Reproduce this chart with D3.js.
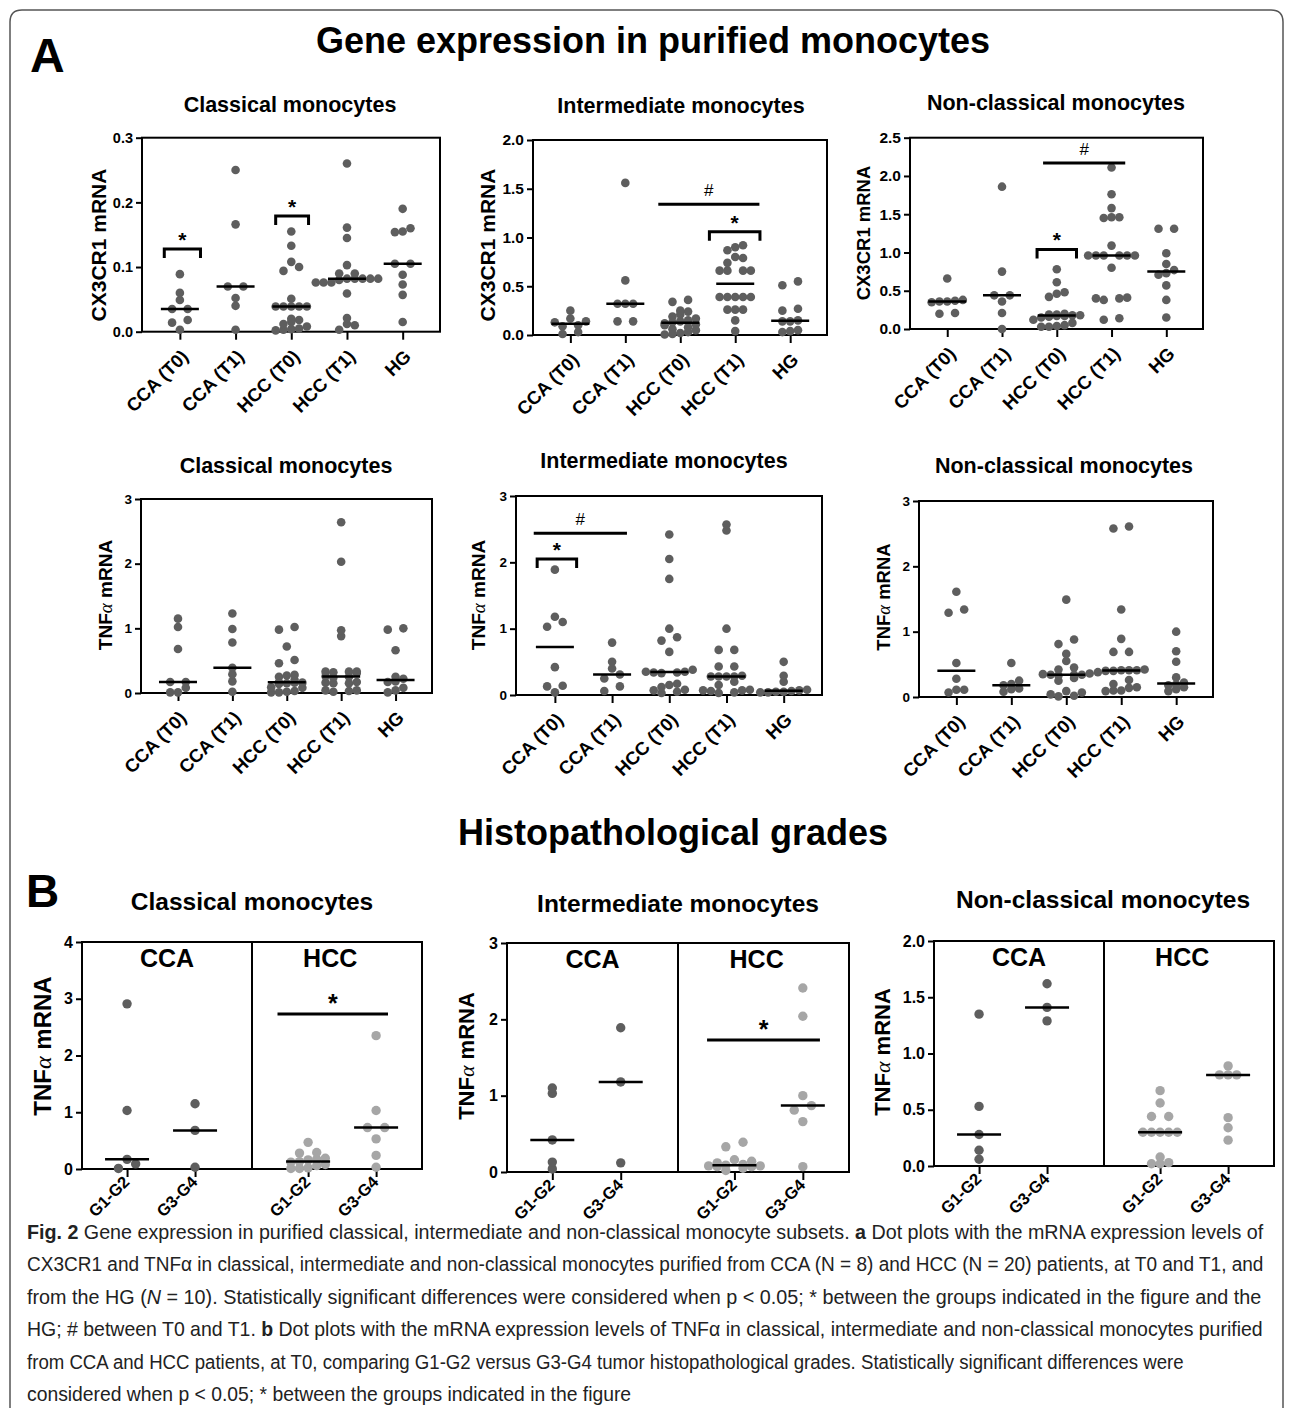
<!DOCTYPE html>
<html>
<head>
<meta charset="utf-8">
<script src="https://cdn.jsdelivr.net/npm/d3@7"></script>
<style>
body { margin: 0; background: #fff; }
svg text { font-family: "Liberation Sans", Arial, sans-serif; }
.cap { white-space: pre; }
</style>
</head>
<body>
<svg id="fig" width="1293" height="1408"></svg>
<script>
const groupsA = ["CCA (T0)", "CCA (T1)", "HCC (T0)", "HCC (T1)", "HG"];
const groupsB = ["G1-G2", "G3-G4", "G1-G2", "G3-G4"];
const subsets = ["Classical monocytes", "Intermediate monocytes", "Non-classical monocytes"];

// CX3CR1 mRNA, one array per group (CCA T0, CCA T1, HCC T0, HCC T1, HG)
const cx3cr1Classical = [
  [0.089, 0.060, 0.049, 0.035, 0.035, 0.018, 0.014, 0.003],
  [0.250, 0.166, 0.070, 0.070, 0.052, 0.040, 0.003],
  [0.155, 0.133, 0.108, 0.100, 0.094, 0.051, 0.039, 0.039, 0.039, 0.039, 0.039, 0.020, 0.018, 0.015, 0.012, 0.008, 0.005, 0.004, 0.003, 0.002],
  [0.260, 0.161, 0.145, 0.103, 0.090, 0.090, 0.082, 0.082, 0.082, 0.082, 0.082, 0.080, 0.076, 0.076, 0.076, 0.059, 0.021, 0.012, 0.010, 0.003],
  [0.190, 0.160, 0.155, 0.154, 0.105, 0.105, 0.088, 0.073, 0.057, 0.015]
];
const cx3cr1Intermediate = [
  [0.25, 0.17, 0.14, 0.13, 0.10, 0.09, 0.03, 0.01],
  [1.56, 0.56, 0.32, 0.32, 0.32, 0.14, 0.14],
  [0.36, 0.34, 0.25, 0.24, 0.21, 0.19, 0.17, 0.15, 0.14, 0.13, 0.12, 0.11, 0.10, 0.08, 0.06, 0.05, 0.03, 0.02, 0.01, 0.005],
  [0.92, 0.90, 0.87, 0.80, 0.79, 0.74, 0.66, 0.66, 0.66, 0.66, 0.39, 0.39, 0.39, 0.39, 0.39, 0.26, 0.26, 0.26, 0.15, 0.04],
  [0.55, 0.51, 0.27, 0.25, 0.15, 0.14, 0.14, 0.05, 0.04, 0.03]
];
const cx3cr1NonClassical = [
  [0.66, 0.38, 0.37, 0.36, 0.36, 0.35, 0.21, 0.20],
  [1.86, 0.75, 0.44, 0.44, 0.36, 0.21, 0.00],
  [0.78, 0.61, 0.48, 0.46, 0.42, 0.20, 0.19, 0.19, 0.18, 0.18, 0.17, 0.17, 0.16, 0.15, 0.12, 0.08, 0.05, 0.04, 0.03, 0.03],
  [2.11, 1.76, 1.58, 1.46, 1.46, 1.45, 1.09, 0.96, 0.96, 0.96, 0.96, 0.96, 0.96, 0.80, 0.41, 0.40, 0.40, 0.38, 0.14, 0.12],
  [1.31, 1.31, 0.99, 0.85, 0.77, 0.73, 0.71, 0.57, 0.38, 0.15]
];

// TNFa mRNA
const tnfClassical = [
  [1.15, 1.02, 0.68, 0.17, 0.17, 0.08, 0.01, 0.01],
  [1.23, 0.99, 0.78, 0.39, 0.29, 0.18, 0.02],
  [1.02, 0.98, 0.72, 0.51, 0.46, 0.28, 0.27, 0.25, 0.20, 0.17, 0.16, 0.16, 0.15, 0.14, 0.09, 0.08, 0.03, 0.02, 0.01, 0.01],
  [2.64, 2.03, 0.97, 0.88, 0.33, 0.33, 0.33, 0.32, 0.31, 0.26, 0.25, 0.24, 0.17, 0.16, 0.15, 0.15, 0.04, 0.04, 0.03, 0.02],
  [1.00, 0.98, 0.66, 0.25, 0.22, 0.18, 0.17, 0.08, 0.04, 0.01]
];
const tnfIntermediate = [
  [1.89, 1.18, 1.10, 1.03, 0.42, 0.14, 0.13, 0.04],
  [0.79, 0.50, 0.40, 0.31, 0.25, 0.13, 0.06],
  [2.42, 2.05, 1.75, 1.00, 0.87, 0.82, 0.65, 0.38, 0.35, 0.35, 0.34, 0.34, 0.33, 0.17, 0.15, 0.12, 0.08, 0.07, 0.05, 0.03],
  [2.57, 2.48, 1.00, 0.68, 0.68, 0.43, 0.43, 0.29, 0.28, 0.28, 0.28, 0.28, 0.20, 0.15, 0.08, 0.07, 0.07, 0.06, 0.04, 0.03],
  [0.50, 0.29, 0.20, 0.08, 0.07, 0.06, 0.05, 0.05, 0.04, 0.04]
];
const tnfNonClassical = [
  [1.61, 1.34, 1.29, 0.52, 0.28, 0.11, 0.11, 0.07],
  [0.52, 0.25, 0.20, 0.18, 0.13, 0.12, 0.08],
  [1.49, 0.88, 0.81, 0.66, 0.55, 0.45, 0.42, 0.36, 0.35, 0.34, 0.34, 0.34, 0.33, 0.29, 0.25, 0.09, 0.07, 0.04, 0.02, 0.01],
  [2.61, 2.58, 1.34, 0.89, 0.69, 0.69, 0.42, 0.41, 0.41, 0.41, 0.40, 0.40, 0.38, 0.26, 0.20, 0.15, 0.14, 0.10, 0.10, 0.09],
  [1.00, 0.70, 0.54, 0.30, 0.22, 0.19, 0.18, 0.15, 0.12, 0.09]
];

// TNFa mRNA by grade (CCA G1-G2, CCA G3-G4, HCC G1-G2, HCC G3-G4)
const gradeClassical = [
  [2.91, 1.03, 0.17, 0.09, 0.01],
  [1.15, 0.68, 0.03],
  [0.47, 0.29, 0.28, 0.19, 0.17, 0.16, 0.13, 0.12, 0.08, 0.06, 0.02, 0.01, 0.01],
  [2.35, 1.03, 0.73, 0.73, 0.53, 0.24, 0.03]
];
const gradeIntermediate = [
  [1.10, 1.03, 0.42, 0.13, 0.04],
  [1.89, 1.18, 0.12],
  [0.39, 0.33, 0.16, 0.14, 0.12, 0.10, 0.09, 0.08, 0.08, 0.07, 0.07, 0.05, 0.02],
  [2.41, 2.04, 1.00, 0.87, 0.81, 0.66, 0.07]
];
const gradeNonClassical = [
  [1.35, 0.53, 0.28, 0.14, 0.06],
  [1.62, 1.41, 1.29],
  [0.67, 0.56, 0.44, 0.44, 0.30, 0.30, 0.30, 0.30, 0.30, 0.08, 0.03, 0.02, 0.02],
  [0.89, 0.81, 0.81, 0.81, 0.43, 0.34, 0.23]
];

const cx3cr1Ticks = [[0, 0.1, 0.2, 0.3], [0, 0.5, 1, 1.5, 2], [0, 0.5, 1, 1.5, 2, 2.5]];
const tnfTicks = [[0, 1, 2, 3], [0, 1, 2, 3], [0, 1, 2, 3]];
const gradeTicks = [[0, 1, 2, 3, 4], [0, 1, 2, 3], [0, 0.5, 1, 1.5, 2]];

// significance marks: group-index span and height in data units
const cx3cr1Marks = [
  [{ type: "bracket", from: -0.28, to: 0.37, y: 0.128, label: "*" },
   { type: "bracket", from: 1.72, to: 2.31, y: 0.179, label: "*" }],
  [{ type: "line", from: 1.6, to: 3.44, y: 1.34, label: "#" },
   { type: "bracket", from: 2.53, to: 3.45, y: 1.06, label: "*" }],
  [{ type: "line", from: 1.75, to: 3.25, y: 2.17, label: "#" },
   { type: "bracket", from: 1.64, to: 2.36, y: 1.04, label: "*" }]
];
const tnfMarks = [
  [],
  [{ type: "line", from: -0.37, to: 1.26, y: 2.44, label: "#" },
   { type: "bracket", from: -0.31, to: 0.38, y: 2.05, label: "*" }],
  []
];
const gradeMarks = [
  [{ type: "line", from: 1.15, to: 1.8, y: 2.73, label: "*" }],
  [{ type: "line", from: 1.17, to: 1.83, y: 1.73, label: "*" }],
  []
];

const svg = d3.select("#fig");
const dark = "#5e5e5e", light = "#a6a6a6";

svg.append("path")
  .attr("d", "M10,1408 V22 Q10,10 22,10 H1271 Q1283,10 1283,22 V1408")
  .attr("fill", "none").attr("stroke", "#555").attr("stroke-width", 1.5);

// points with close values share a row and are spread around the column centre
function swarm(values, y, spacing) {
  const pts = values.map(v => ({ v: v, py: y(v) })).sort((a, b) => b.py - a.py);
  const rows = [];
  for (let p of pts) {
    const row = rows[rows.length - 1];
    if (row && Math.abs(p.py - row[0].py) <= 5) row.push(p);
    else rows.push([p]);
  }
  for (let row of rows) {
    const n = row.length;
    row.forEach((p, i) => {
      if (n % 2) p.dx = (i - (n - 1) / 2) * spacing;
      else p.dx = (i % 2 ? 1 : -1) * (Math.floor(i / 2) + 1) * spacing;
    });
  }
  return pts;
}

function drawPanel(cfg) {
  const [left, right, top, bottom] = cfg.box;
  const y = d3.scaleLinear([0, d3.max(cfg.ticks)], [bottom, top]);
  const x = d3.scaleLinear(cfg.xDomain, [left, right]);
  const g = svg.append("g");

  g.append("rect")
    .attr("x", left).attr("y", top)
    .attr("width", right - left).attr("height", bottom - top)
    .attr("fill", "none").attr("stroke", "#000").attr("stroke-width", 2);
  if (cfg.split) {
    g.append("line")
      .attr("x1", x(1)).attr("x2", x(1)).attr("y1", top).attr("y2", bottom)
      .attr("stroke", "#000").attr("stroke-width", 2);
  }

  const yAxis = d3.axisLeft(y).tickValues(cfg.ticks).tickFormat(d3.format(cfg.fmt))
    .tickSize(6).tickSizeOuter(0).tickPadding(3);
  const yg = g.append("g").attr("transform", `translate(${left},0)`).call(yAxis);
  yg.select(".domain").remove();
  yg.selectAll(".tick line").attr("stroke", "#000").attr("stroke-width", 2);
  yg.selectAll("text").attr("fill", "#000").style("font-size", cfg.tickFont + "px").style("font-weight", "bold");

  const xAxis = d3.axisBottom(x).tickValues(cfg.pos).tickFormat((d, i) => cfg.groups[i])
    .tickSize(8).tickSizeOuter(0);
  const xg = g.append("g").attr("transform", `translate(0,${bottom})`).call(xAxis);
  xg.select(".domain").remove();
  xg.selectAll(".tick line").attr("stroke", "#000").attr("stroke-width", 2);
  xg.selectAll("text")
    .attr("fill", "#000").attr("x", 0).attr("y", 0).attr("dy", 0)
    .attr("transform", `translate(${cfg.xlab[0]},${cfg.xlab[1]}) rotate(-45)`)
    .style("text-anchor", "end").style("font-size", cfg.xFont + "px").style("font-weight", "bold");

  cfg.values.forEach((vals, gi) => {
    const cx = x(cfg.pos[gi]);
    g.append("g").selectAll("circle")
      .data(swarm(vals, y, cfg.spacing))
      .join("circle")
      .attr("cx", d => cx + d.dx)
      .attr("cy", d => y(d.v))
      .attr("r", cfg.r)
      .attr("fill", cfg.colors[gi]);
  });
  cfg.values.forEach((vals, gi) => {
    const cx = x(cfg.pos[gi]);
    const m = y(d3.median(vals));
    g.append("line")
      .attr("x1", cx - cfg.half).attr("x2", cx + cfg.half)
      .attr("y1", m).attr("y2", m)
      .attr("stroke", "#000").attr("stroke-width", 2.5);
  });

  for (let mk of cfg.marks) {
    const x1 = x(mk.from), x2 = x(mk.to), yy = y(mk.y);
    if (mk.type === "bracket") {
      g.append("path").attr("d", `M${x1},${yy + 9}V${yy}H${x2}V${yy + 9}`)
        .attr("fill", "none").attr("stroke", "#000").attr("stroke-width", 3);
    } else {
      g.append("line").attr("x1", x1).attr("x2", x2).attr("y1", yy).attr("y2", yy)
        .attr("stroke", "#000").attr("stroke-width", 3);
    }
    const t = g.append("text").attr("x", (x1 + x2) / 2).attr("text-anchor", "middle").text(mk.label);
    if (mk.label === "*") {
      t.attr("y", yy - 2).style("font-size", cfg.starFont + "px").style("font-weight", "bold");
    } else {
      t.attr("y", yy - 8).style("font-size", "17px");
    }
  }

  svg.append("text")
    .attr("x", cfg.title[0]).attr("y", cfg.title[1])
    .attr("text-anchor", "middle")
    .style("font-size", cfg.titleFont + "px").style("font-weight", "bold")
    .text(cfg.titleText);

  const lab = svg.append("text")
    .attr("transform", `translate(${cfg.ylab[0]},${cfg.ylab[1]}) rotate(-90)`)
    .attr("text-anchor", "middle").attr("dy", "0.36em")
    .style("font-size", cfg.ylab[2] + "px").style("font-weight", "bold");
  if (cfg.gene === "TNF") {
    lab.append("tspan").text("TNF");
    lab.append("tspan").text("α").style("font-family", "'Liberation Serif', serif")
      .style("font-style", "italic").style("font-weight", "normal");
    lab.append("tspan").text(" mRNA");
  } else {
    lab.text(cfg.gene + " mRNA");
  }

  if (cfg.split) {
    for (let [k, name] of [[0.5, "CCA"], [1.46, "HCC"]]) {
      svg.append("text").attr("x", x(k)).attr("y", top + 25)
        .attr("text-anchor", "middle")
        .style("font-size", "25px").style("font-weight", "bold").text(name);
    }
  }
}

const aBase = {
  xDomain: [-0.68, 4.67], pos: [0, 1, 2, 3, 4], groups: groupsA,
  colors: [dark, dark, dark, dark, dark], r: 4.3, spacing: 7.8, half: 19,
  xlab: [9, 26], xFont: 18.5, starFont: 21, titleFont: 21.5
};
const rowA1 = [
  { box: [142, 440, 137.7, 331.7], title: [290, 112], ylab: [98, 245, 21], tickFont: 14.5, fmt: ".1f" },
  { box: [533, 827, 140, 335], title: [681, 113], ylab: [487, 245, 21], tickFont: 15.5, fmt: ".1f" },
  { box: [910, 1203, 137.7, 329], title: [1056, 110], ylab: [863, 233, 18.5], tickFont: 15.5, fmt: ".1f" }
];
rowA1.forEach((p, i) => drawPanel(Object.assign({}, aBase, p, {
  values: [cx3cr1Classical, cx3cr1Intermediate, cx3cr1NonClassical][i],
  ticks: cx3cr1Ticks[i], marks: cx3cr1Marks[i], titleText: subsets[i], gene: "CX3CR1"
})));

const rowA2 = [
  { box: [141, 432, 499, 693], title: [286, 473], ylab: [105, 595, 19], tickFont: 13.5 },
  { box: [516, 822, 496, 695], title: [664, 468], ylab: [478, 595, 19], tickFont: 13.5 },
  { box: [919, 1213, 501, 697], title: [1064, 473], ylab: [883, 597, 18.5], tickFont: 13.5 }
];
rowA2.forEach((p, i) => drawPanel(Object.assign({}, aBase, p, {
  values: [tnfClassical, tnfIntermediate, tnfNonClassical][i], fmt: "d",
  ticks: tnfTicks[i], marks: tnfMarks[i], titleText: subsets[i], gene: "TNF"
})));

const bBase = {
  xDomain: [0, 2], pos: [0.265, 0.665, 1.33, 1.73], groups: groupsB, split: true,
  colors: [dark, dark, light, light], r: 4.7, spacing: 8.6, half: 22,
  xlab: [3, 14], xFont: 16.5, starFont: 25, titleFont: 24.5, tickFont: 16, gene: "TNF"
};
const rowB = [
  { box: [82, 422, 942, 1169], title: [252, 910], ylab: [42, 1046, 24], fmt: "d" },
  { box: [507, 849, 943, 1172], title: [678, 912], ylab: [466, 1056, 22], fmt: "d" },
  { box: [934, 1274, 941, 1166], title: [1103, 908], ylab: [882, 1052, 22], fmt: ".1f" }
];
rowB.forEach((p, i) => drawPanel(Object.assign({}, bBase, p, {
  values: [gradeClassical, gradeIntermediate, gradeNonClassical][i],
  ticks: gradeTicks[i], marks: gradeMarks[i], titleText: subsets[i]
})));

svg.append("text").attr("x", 30).attr("y", 72)
  .style("font-size", "48px").style("font-weight", "bold").text("A");
svg.append("text").attr("x", 653).attr("y", 53).attr("text-anchor", "middle")
  .style("font-size", "36px").style("font-weight", "bold").text("Gene expression in purified monocytes");
svg.append("text").attr("x", 26).attr("y", 907)
  .style("font-size", "46px").style("font-weight", "bold").text("B");
svg.append("text").attr("x", 673).attr("y", 845).attr("text-anchor", "middle")
  .style("font-size", "36px").style("font-weight", "bold").text("Histopathological grades");

// caption, squeezed horizontally to the reference line widths
const captionLines = [
  [["Fig. 2", "b"], [" Gene expression in purified classical, intermediate and non-classical monocyte subsets. "], ["a", "b"], [" Dot plots with the mRNA expression levels of"]],
  [["CX3CR1 and TNFα in classical, intermediate and non-classical monocytes purified from CCA (N = 8) and HCC (N = 20) patients, at T0 and T1, and"]],
  [["from the HG ("], ["N", "i"], [" = 10). Statistically significant differences were considered when p < 0.05; * between the groups indicated in the figure and the"]],
  [["HG; # between T0 and T1. "], ["b", "b"], [" Dot plots with the mRNA expression levels of TNFα in classical, intermediate and non-classical monocytes purified"]],
  [["from CCA and HCC patients, at T0, comparing G1-G2 versus G3-G4 tumor histopathological grades. Statistically significant differences were"]],
  [["considered when p < 0.05; * between the groups indicated in the figure"]]
];
const captionWidths = [1237, 1237, 1235, 1236, 1157];
const ratios = [];
captionLines.forEach((parts, li) => {
  const t = svg.append("text").attr("class", "cap")
    .attr("x", 0).attr("y", 0)
    .style("font-size", "21px").attr("fill", "#222");
  for (let [s, f] of parts) {
    const ts = t.append("tspan").text(s);
    if (f === "b") ts.style("font-weight", "bold");
    if (f === "i") ts.style("font-style", "italic");
  }
  const w = t.node().getComputedTextLength();
  let sx;
  if (li < captionWidths.length) { sx = captionWidths[li] / w; ratios.push(sx); }
  else sx = d3.mean(ratios);
  t.attr("transform", `translate(27,${1239 + li * 32.4}) scale(${sx},1)`);
});
</script>
</body>
</html>
